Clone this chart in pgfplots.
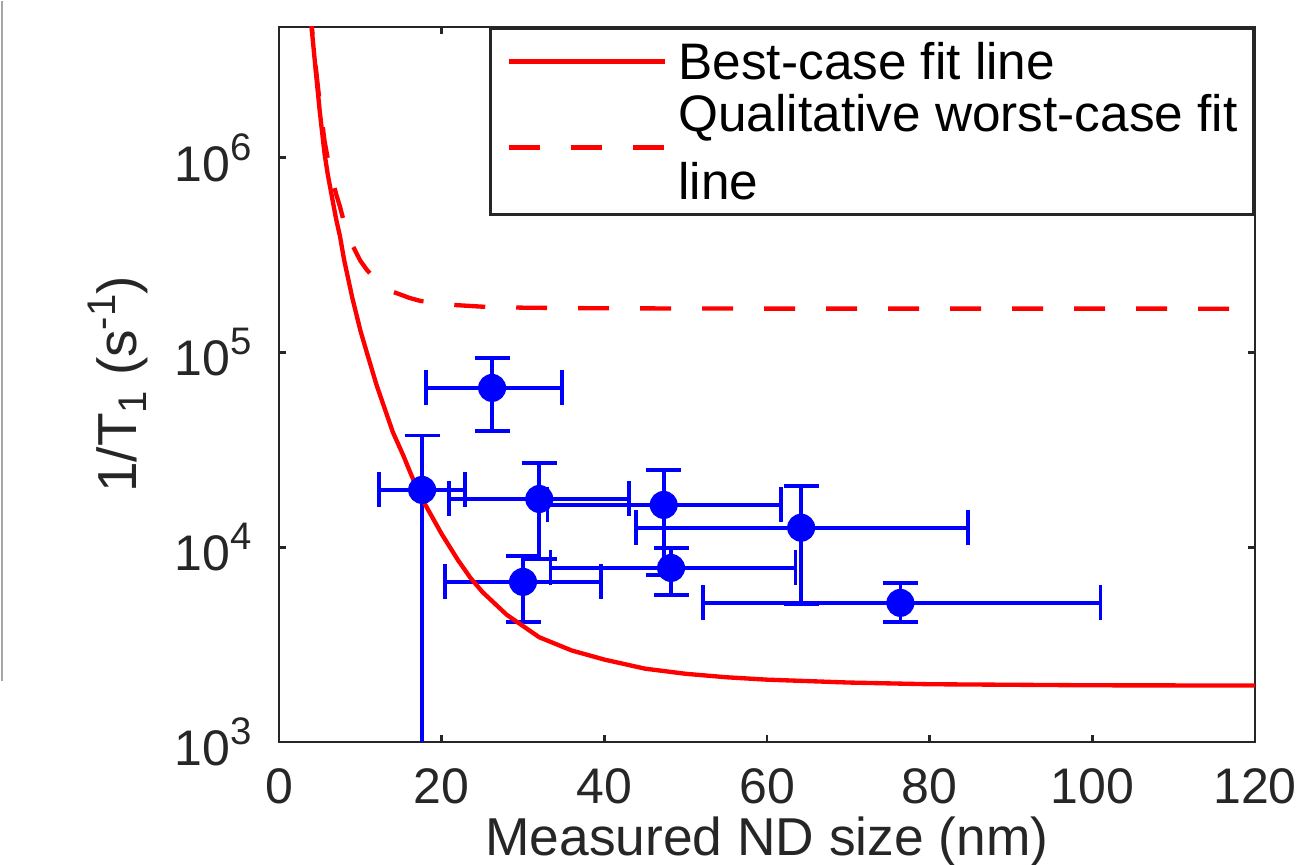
\documentclass[border=0pt]{standalone}
\usepackage{fontspec}
\setmainfont{Liberation Sans}
\usepackage{pgfplots}
\pgfplotsset{compat=1.18}
\definecolor{axgray}{rgb}{0.15,0.15,0.15}
\newcommand\tsup[1]{\raisebox{6.3pt}{\fontsize{11.5}{12}\selectfont #1}}
\newcommand\lsub[1]{\raisebox{-3pt}{\fontsize{12}{12}\selectfont #1}}
\newcommand\lsup[1]{\raisebox{6.5pt}{\fontsize{12}{12}\selectfont #1}}
\newcommand\lstrut{\rule[-4.1pt]{0pt}{17.4pt}}
\begin{document}
\fontsize{15}{17.4}\selectfont
\begin{tikzpicture}
\begin{axis}[
  scale only axis, width=292.8pt, height=214.5pt,
  xmin=0, xmax=120, ymode=log, ymin=1e3, ymax=4.7e6,
  axis line style={axgray, line width=0.8pt},
  every tick/.style={axgray, line width=0.8pt},
  tick align=inside, major tick length=2pt,
  xtick={0,20,40,60,80,100,120}, xticklabels={0,20,40,60,80,100,120},
  ytick={1e3,1e4,1e5,1e6},
  yticklabels={10\tsup{3},10\tsup{4},10\tsup{5},10\tsup{6}},
  yminorticks=false, xminorticks=false,
  tick label style={font=\fontsize{15}{17.4}\selectfont, text=axgray},
  xticklabel style={anchor=north, inner sep=0pt, yshift=-7.8pt},
  yticklabel style={anchor=east, inner sep=0pt, xshift=-8pt},
  xlabel={Measured ND size (nm)},
  ylabel={1/T\lsub{1} (s\lsup{-1})},
  every axis x label/.style={at={(rel axis cs:0.5,0)}, yshift=-34.2pt, anchor=base, inner sep=0pt, text depth=0pt, font=\fontsize{16}{18}\selectfont, text=axgray},
  every axis y label/.style={at={(rel axis cs:0,0.5)}, xshift=-48.3pt, rotate=90, anchor=center, inner sep=0pt, font=\fontsize{16.5}{18}\selectfont, text=axgray},
  legend style={at={(1,1)}, anchor=north east, draw=axgray, line width=0.8pt, fill=white,
    font=\fontsize{15.4}{17.4}\selectfont, cells={anchor=west, align=left},
    nodes={inner sep=0pt},
    inner xsep=4.8pt, inner ysep=2.2pt, row sep=0pt, column sep=3.3pt},
  legend image code/.code={\draw[#1] (0pt,0pt) -- (47pt,0pt);},
  clip=true,
]
\coordinate (sw) at (rel axis cs:0,0);
\coordinate (ne) at (rel axis cs:1,1);
% measured data with asymmetric error bars
\addplot[blue, only marks, mark=*, mark size=4pt, mark options={fill=blue, draw=blue, line width=0.4pt}, forget plot,
  error bars/.cd, x dir=both, x explicit, y dir=both, y explicit,
  error bar style={line width=1.1pt, blue},
  error mark=|,
  error mark options={blue, line width=1.1pt, mark size=5.25pt}]
  coordinates {
  (17.6,19700) += (5.3,17800) -= (5.3,19600)
  (26.2,65800) += (8.6,28200) -= (8.1,26300)
  (32.0,17700) += (11.0,9400) -= (11.1,9000)
  (47.3,16500) += (14.4,8500) -= (14.3,9300)
  (48.2,7830) += (15.3,2070) -= (14.8,2140)
  (30.0,6640) += (9.6,2360) -= (9.6,2510)
  (64.2,12600) += (20.5,8100) -= (20.3,7500)
  (76.4,5180) += (24.6,1380) -= (24.3,1050)
  };
\addplot[red, line width=1.3pt] coordinates {
  (3.8,6.0e6) (4.0,4.7e6) (4.5,2.85e6) (5,1.75e6) (5.6,1.05e6) (6,8.2e5) (7,4.9e5)
  (7.5,3.95e5) (8,3.0e5) (9,1.92e5) (10,1.3e5) (10.8,1.0e5) (12,6.8e4) (14,3.9e4)
  (15.3,2.95e4) (16,2.5e4) (17.4,1.82e4) (18,1.65e4) (20,1.17e4) (22,8.6e3)
  (23.5,7.0e3) (25,5.9e3) (28,4.5e3) (32,3.45e3) (36,2.95e3) (40,2.65e3)
  (45,2.38e3) (50,2.24e3) (55,2.15e3) (60,2.09e3) (70,2.02e3) (80,1.98e3)
  (100,1.955e3) (120,1.95e3)
};
\addlegendentry{\lstrut Best-case fit line}
\addplot[red, line width=1.3pt, dash pattern=on 9.3pt off 9.3pt] coordinates {
  (3.8,6.17e6) (4.0,4.87e6) (4.5,2.97e6) (5,1.92e6) (5.6,1.22e6) (6,9.86e5) (7,6.56e5)
  (7.5,5.61e5) (8,4.66e5) (9,3.58e5) (10,2.96e5) (10.8,2.66e5) (12,2.34e5)
  (14,2.05e5) (15.3,1.96e5) (16,1.91e5) (17.4,1.84e5) (18,1.83e5) (20,1.78e5)
  (22,1.75e5) (25,1.72e5) (30,1.70e5) (40,1.687e5) (60,1.681e5) (120,1.68e5)
};
\addlegendentry{\lstrut Qualitative worst-case fit\\[3pt]\lstrut line}
\end{axis}
\path ([shift={(-83.7pt,-36.6pt)}]sw) rectangle ([shift={(13.5pt,7.8pt)}]ne);
\draw[gray!70, line width=0.6pt] ([shift={(-83.2pt,18.3pt)}]sw) -- ++(0,204pt);
\end{tikzpicture}
\end{document}
